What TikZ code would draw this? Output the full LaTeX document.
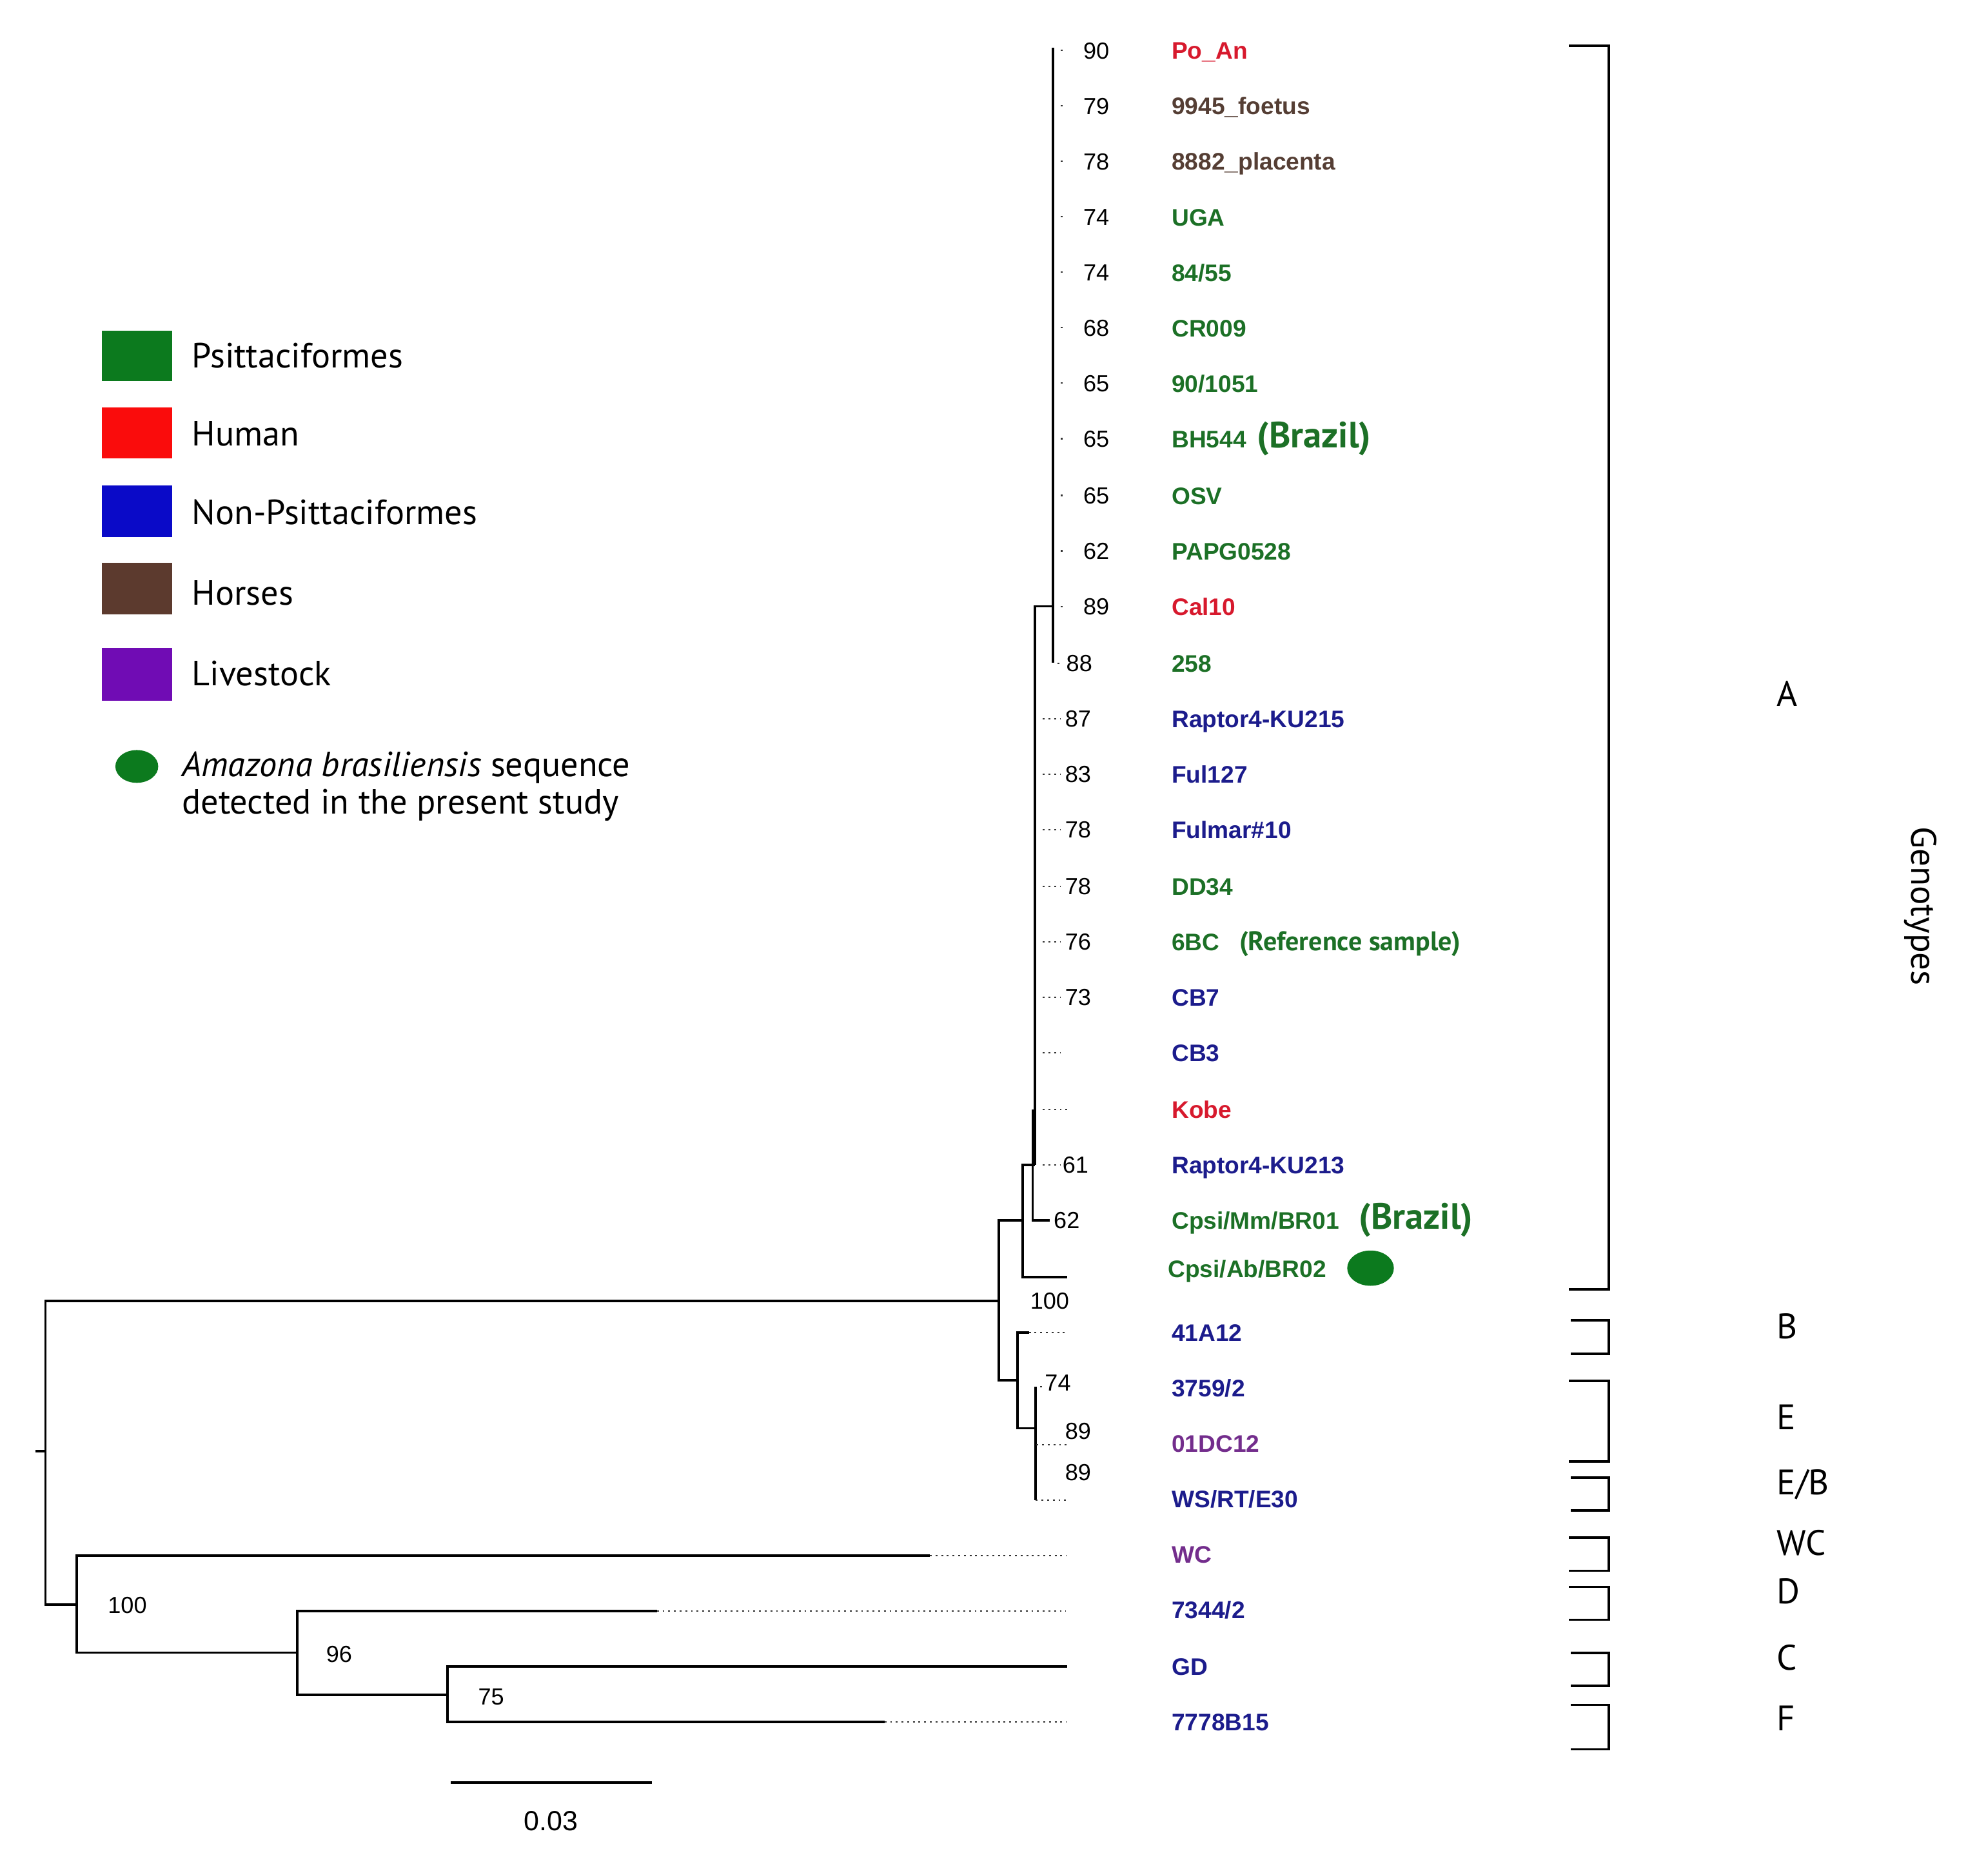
\documentclass[tikz,border=0pt]{standalone}
\usepackage{fontspec}
\setmainfont{Liberation Sans}
\newfontfamily\legendfont{PT Sans}
\definecolor{psitgreen}{RGB}{12,122,30}
\definecolor{humanred}{RGB}{250,12,12}
\definecolor{nonpsitblue}{RGB}{10,10,200}
\definecolor{horsebrown}{RGB}{92,58,46}
\definecolor{livepurple}{RGB}{112,12,180}
\definecolor{lgreen}{RGB}{28,112,38}
\definecolor{lred}{RGB}{215,25,45}
\definecolor{lblue}{RGB}{28,28,140}
\definecolor{lbrown}{RGB}{85,62,52}
\definecolor{lpurple}{RGB}{115,45,140}
\usetikzlibrary{positioning}

\begin{document}
\begin{tikzpicture}[x=0.2mm, y=-0.2mm,
  branch/.style={line width=1.1pt},
  ext/.style={line width=0.6pt, dash pattern=on 0.3mm off 0.6mm, black!80},
  bracket/.style={line width=1.1pt},
  leaf/.style={anchor=base west, inner sep=0pt, font=\fontsize{10.8}{13}\selectfont\bfseries},
  boot/.style={anchor=base, inner sep=0pt, font=\fontsize{10.5}{12}\selectfont},
  country/.style={inner sep=0pt, text=lgreen, font=\legendfont\fontsize{16.5}{19}\selectfont\bfseries},
  legtext/.style={anchor=base west, inner sep=0pt, font=\legendfont\fontsize{15.8}{18}\selectfont},
  genotype/.style={anchor=base west, inner sep=0pt, font=\legendfont\fontsize{16}{19}\selectfont}]
\useasboundingbox (0,0) rectangle (1568,1488);

% legend
\fill[psitgreen] (80.6,262.4) rectangle (136.4,302.3);
\fill[humanred] (80.6,323.2) rectangle (136.4,363.6);
\fill[nonpsitblue] (80.6,385) rectangle (136.4,426);
\fill[horsebrown] (80.6,446.5) rectangle (136.4,487.4);
\fill[livepurple] (80.6,514) rectangle (136.4,556);
\fill[psitgreen] (108.5,608) ellipse [x radius=17, y radius=13];
\node[legtext] (lpsit) at (151.9,292) {Psittaciformes};
\node[legtext] (lhuman) at (151.9,353.7) {Human};
\node[legtext] (lnon) at (151.9,416) {Non-Psittaciformes};
\node[legtext] (lhorse) at (151.9,480) {Horses};
\node[legtext] (llive) at (151.9,544) {Livestock};
\node[legtext] (lama) at (144,615.8) {\itshape Amazona brasiliensis\upshape{} sequence};
\node[legtext] (ldet) at (144,645.8) {detected in the present study};

% tree
\coordinate (stub) at (28,1151);
\coordinate (root) at (36,1151);
\coordinate (nABE) at (792,1032);
\coordinate (nA) at (811,968);
\coordinate (nA1) at (821,924);
\coordinate (nA2) at (835,481);
\coordinate (topA) at (835,38);
\coordinate (footA) at (835,525.7);
\coordinate (nMm) at (819,880);
\coordinate (nBE) at (807,1095);
\coordinate (nE) at (821.5,1133);
\coordinate (nOut) at (61,1273);
\coordinate (nDCF) at (235.7,1311);
\coordinate (nCF) at (355,1344.5);
\coordinate (tAb) at (846.6,1013);
\coordinate (tMm) at (832.7,968);
\coordinate (t41) at (816,1057);
\coordinate (t3759) at (821.5,1100);
\coordinate (tWS) at (821.5,1190);
\coordinate (tWC) at (737.5,1234);
\coordinate (t7344) at (521,1278);
\coordinate (tGD) at (846.6,1322);
\coordinate (t7778) at (701.5,1366);

\draw[branch] (stub) -- (root);
\draw[branch] (root) |- (nABE);
\draw[branch] (root) |- (nOut);
\draw[branch] (nABE) |- (nA);
\draw[branch] (nABE) |- (nBE);
\draw[branch] (nA) |- (nA1);
\draw[branch] (nA) |- (tAb);
\draw[branch] (nA1) |- (nA2);
\draw[branch] (topA) -- (footA);
\draw[branch] (nMm) |- (tMm);
\draw[branch] (nBE) |- (t41);
\draw[branch] (nBE) |- (nE);
\draw[branch] (nE) |- (t3759);
\draw[branch] (nE) |- (tWS);
\draw[branch] (nOut) |- (tWC);
\draw[branch] (nOut) |- (nDCF);
\draw[branch] (nDCF) |- (t7344);
\draw[branch] (nDCF) |- (nCF);
\draw[branch] (nCF) |- (tGD);
\draw[branch] (nCF) |- (t7778);

\draw[ext] (841.5,40) -- (843.5,40) (841.5,84) -- (843.5,84) (841.5,128) -- (843.5,128)
  (841.5,172) -- (843.5,172) (841.5,216) -- (843.5,216) (841.5,260) -- (843.5,260)
  (841.5,304) -- (843.5,304) (841.5,348) -- (843.5,348) (841.5,393) -- (843.5,393)
  (841.5,437) -- (843.5,437) (841.5,481) -- (843.5,481) (838.5,526) -- (840.5,526);
\draw[ext] (827,570) -- (841,570) (827,614) -- (841,614) (827,658) -- (841,658)
  (827,703) -- (841,703) (827,747) -- (841,747) (827,791) -- (841,791)
  (827,835) -- (841,835) (827,880) -- (847,880) (827,924) -- (841,924);
\draw[ext] (t41) -- (846,1057);
\draw[ext] (825,1100) -- (827,1100);
\draw[ext] (822,1146) -- (846.6,1146);
\draw[ext] (tWS) -- (846.6,1190);
\draw[ext] (tWC) -- (845.6,1234);
\draw[ext] (t7344) -- (845.6,1278);
\draw[ext] (t7778) -- (845.6,1366);

% bootstrap values
\node[boot] (b1) at (869.5,46.6) {90};
\node[boot] (b2) at (869.5,90.6) {79};
\node[boot] (b3) at (869.5,134.6) {78};
\node[boot] (b4) at (869.5,178.6) {74};
\node[boot] (b5) at (869.5,222.6) {74};
\node[boot] (b6) at (869.5,266.6) {68};
\node[boot] (b7) at (869.5,310.6) {65};
\node[boot] (b8) at (869.5,354.6) {65};
\node[boot] (b9) at (869.5,399.6) {65};
\node[boot] (b10) at (869.5,443.6) {62};
\node[boot] (b11) at (869.5,487.6) {89};
\node[boot] (b12) at (856,532.6) {88};
\node[boot] (b13) at (855,576.6) {87};
\node[boot] (b14) at (855,620.6) {83};
\node[boot] (b15) at (855,664.6) {78};
\node[boot] (b16) at (855,709.6) {78};
\node[boot] (b17) at (855,753.6) {76};
\node[boot] (b18) at (855,797.6) {73};
\node[boot] (b21) at (853,930.6) {61};
\node[boot] (b22) at (846,974.6) {62};
\node[boot] (bA) at (832.5,1038.6) {100};
\node[boot] (bE) at (839,1103.6) {74};
\node[boot] (bE1) at (855,1141.6) {89};
\node[boot] (bE2) at (855,1174.6) {89};
\node[boot] (bOut) at (101,1279.6) {100};
\node[boot] (bDCF) at (269,1318.6) {96};
\node[boot] (bCF) at (389.5,1352.6) {75};

% taxa
\node[leaf, text=lred] (poan) at (929,47) {Po\_An};
\node[leaf, text=lbrown] (foetus) at (929,91) {9945\_foetus};
\node[leaf, text=lbrown] (placenta) at (929,135) {8882\_placenta};
\node[leaf, text=lgreen] (uga) at (929,179) {UGA};
\node[leaf, text=lgreen] (t8455) at (929,223) {84/55};
\node[leaf, text=lgreen] (cr009) at (929,267) {CR009};
\node[leaf, text=lgreen] (t901051) at (929,311) {90/1051};
\node[leaf, text=lgreen] (bh544) at (929,355) {BH544};
\node[leaf, text=lgreen] (osv) at (929,400) {OSV};
\node[leaf, text=lgreen] (papg) at (929,444) {PAPG0528};
\node[leaf, text=lred] (cal10) at (929,488) {Cal10};
\node[leaf, text=lgreen] (t258) at (929,533) {258};
\node[leaf, text=lblue] (ku215) at (929,577) {Raptor4-KU215};
\node[leaf, text=lblue] (ful127) at (929,621) {Ful127};
\node[leaf, text=lblue] (fulmar) at (929,665) {Fulmar\#10};
\node[leaf, text=lgreen] (dd34) at (929,710) {DD34};
\node[leaf, text=lgreen] (sixbc) at (929,754) {6BC};
\node[leaf, text=lblue] (cb7) at (929,798) {CB7};
\node[leaf, text=lblue] (cb3) at (929,842) {CB3};
\node[leaf, text=lred] (kobe) at (929,887) {Kobe};
\node[leaf, text=lblue] (ku213) at (929,931) {Raptor4-KU213};
\node[leaf, text=lgreen] (mm) at (929,975) {Cpsi/Mm/BR01};
\node[leaf, text=lgreen] (ab) at (926,1013.5) {Cpsi/Ab/BR02};
\node[leaf, text=lblue] (a12) at (929,1064) {41A12};
\node[leaf, text=lblue] (t3759l) at (929,1108) {3759/2};
\node[leaf, text=lpurple] (dc12) at (929,1152) {01DC12};
\node[leaf, text=lblue] (ws) at (929,1196) {WS/RT/E30};
\node[leaf, text=lpurple] (wc) at (929,1240) {WC};
\node[leaf, text=lblue] (t7344l) at (929,1284) {7344/2};
\node[leaf, text=lblue] (gd) at (929,1329) {GD};
\node[leaf, text=lblue] (b15l) at (929,1373) {7778B15};

\node[country, base right=1.6mm of bh544] (br1) {(Brazil)};
\node[country, base right=3mm of mm] (br2) {(Brazil)};
\node[country, base right=3mm of sixbc, font=\legendfont\fontsize{12.2}{14}\selectfont\bfseries] (refs) {(Reference sample)};
\fill[psitgreen] (1087,1006) ellipse [x radius=18.5, y radius=14];

% genotype brackets
\draw[bracket] (1244.5,36.4) -| (1276,1023) -- (1244.5,1023);
\draw[bracket] (1246,1047.4) -| (1276,1073.9) -- (1246,1073.9);
\draw[bracket] (1244.5,1095.5) -| (1276,1159.5) -- (1244.5,1159.5);
\draw[bracket] (1246,1172.2) -| (1276,1198.3) -- (1246,1198.3);
\draw[bracket] (1244.5,1219.7) -| (1276,1246) -- (1244.5,1246);
\draw[bracket] (1244.5,1258.8) -| (1276,1284.9) -- (1244.5,1284.9);
\draw[bracket] (1246,1311.3) -| (1276,1337.2) -- (1246,1337.2);
\draw[bracket] (1246,1352.4) -| (1276,1387.7) -- (1246,1387.7);

\node[genotype] (gA) at (1409,560) {A};
\node[genotype] (gB) at (1409,1062) {B};
\node[genotype] (gE) at (1409,1134) {E};
\node[genotype] (gEB) at (1409,1185.5) {E/B};
\node[genotype] (gWC) at (1409,1234) {WC};
\node[genotype] (gD) at (1409,1272) {D};
\node[genotype] (gC) at (1409,1325) {C};
\node[genotype] (gF) at (1409,1373) {F};
\node[anchor=base, inner sep=0pt, rotate=-90, font=\legendfont\fontsize{16}{19}\selectfont] (geno) at (1516,719) {Genotypes};

% scale bar
\coordinate (sbl) at (357.6,1414);
\coordinate (sbr) at (516.8,1414);
\draw[branch] (sbl) -- (sbr);
\node[anchor=base, inner sep=0pt, font=\fontsize{12.5}{15}\selectfont] (sblabel) at (437,1452) {0.03};
\end{tikzpicture}
\end{document}
